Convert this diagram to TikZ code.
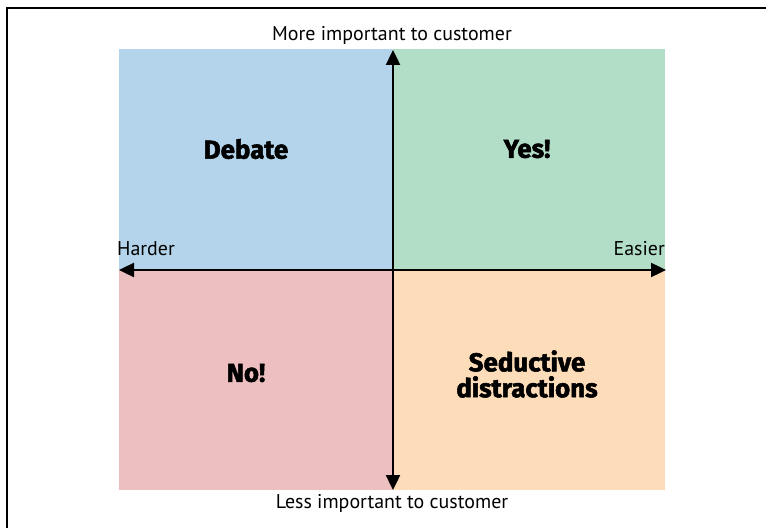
\documentclass[tikz,border=0pt]{standalone}
\usepackage{fontspec}
\setmainfont{PT Sans}
\newfontfamily\heavyfont{Fira Sans}[BoldFont={Fira Sans Bold}, BoldFeatures={FakeBold=2}]
\usetikzlibrary{arrows.meta}
\definecolor{qblue}{HTML}{B3D4EA}
\definecolor{qgreen}{HTML}{B2DEC7}
\definecolor{qpink}{HTML}{EEBFC1}
\definecolor{qpeach}{HTML}{FDDDB9}
\tikzset{
  axislabel/.style={font=\fontsize{20}{22}\selectfont, inner sep=0pt},
  quadlabel/.style={font=\heavyfont\bfseries\fontsize{26}{26}\selectfont, align=center, inner sep=0pt},
  axis/.style={line width=2.4bp, -{Triangle[length=15bp,width=14bp]}},
  frameline/.style={line width=2bp}
}
\begin{document}
\begin{tikzpicture}[x=1bp,y=-1bp]
\fill[white] (0,0) rectangle (768,528);
\useasboundingbox (0,0) rectangle (768,528);
% frame
\coordinate (fl) at (7,528);
\coordinate (fc) at (7,8);
\coordinate (fr) at (766,8);
\draw[frameline] (fl) -- (fc) -- (fr);
% quadrants
\fill[qblue] (119,49) rectangle (393,270);
\fill[qgreen] (393,49) rectangle (665,270);
\fill[qpink] (119,270) rectangle (393,490);
\fill[qpeach] (393,270) rectangle (665,490);
% axis coordinates
\coordinate (top) at (393,50);
\coordinate (bot) at (393,490);
\coordinate (left) at (119,270);
\coordinate (right) at (666,270);
\coordinate (mid) at (393,270);
\draw[axis] (mid) -- (top);
\draw[axis] (mid) -- (bot);
\draw[axis] (mid) -- (left);
\draw[axis] (mid) -- (right);
% axis labels
\node[axislabel] (more) at (392,35) {More important to customer};
\node[axislabel] (less) at (392,503) {Less important to customer};
\node[axislabel, anchor=west] (harder) at (117,249) {Harder};
\node[axislabel, anchor=east] (easier) at (665,249) {Easier};
% quadrant labels
\node[quadlabel] (debate) at (246,149) {Debate};
\node[quadlabel] (yes) at (527,149) {Yes!};
\node[quadlabel] (no) at (246,373) {No!};
\node[quadlabel] (seductive) at (527,374) {Seductive\\distractions};
\end{tikzpicture}
\end{document}
